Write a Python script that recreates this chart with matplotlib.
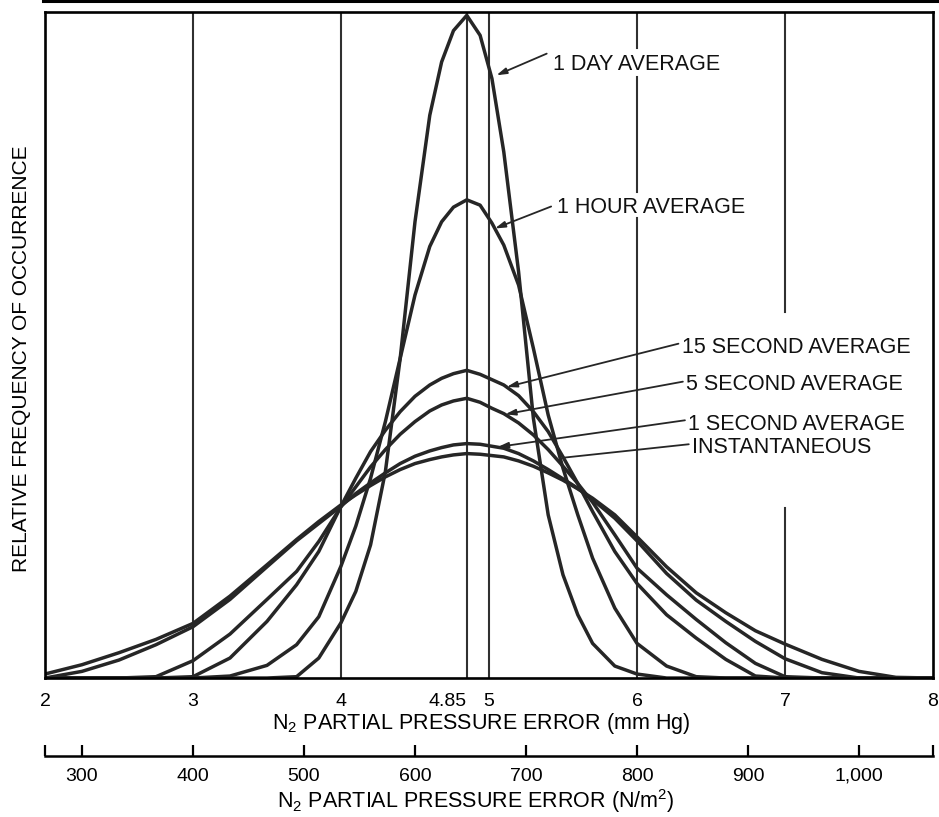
import numpy as np
import matplotlib.pyplot as plt
from matplotlib.lines import Line2D

plt.rcParams["font.family"] = ["Liberation Sans", "DejaVu Sans"]

MMHG_TO_NM2 = 133.322

# N2 partial pressure error (mm Hg) where the curves were read
pressure_mmhg = [2.0, 2.25, 2.5, 2.75, 3.0, 3.25, 3.5, 3.7, 3.85,
                 4.0, 4.1, 4.2, 4.3, 4.4, 4.5, 4.6, 4.68, 4.76,
                 4.85, 4.94, 5.02, 5.1, 5.2, 5.3, 5.4, 5.5, 5.6,
                 5.7, 5.85, 6.0, 6.2, 6.4, 6.6, 6.8, 7.0, 7.25,
                 7.5, 7.75, 8.0]

# relative frequency of occurrence (1.0 = top of frame)
one_day = [0, 0, 0, 0, 0, 0, 0, 0.002, 0.03,
           0.083, 0.13, 0.20, 0.31, 0.48, 0.685, 0.845, 0.925, 0.972,
           0.995, 0.965, 0.90, 0.79, 0.61, 0.39, 0.245, 0.155, 0.095,
           0.052, 0.018, 0.006, 0, 0, 0, 0, 0, 0,
           0, 0, 0]
one_hour = [0, 0, 0, 0, 0, 0.003, 0.019, 0.05, 0.092,
            0.168, 0.228, 0.30, 0.385, 0.48, 0.575, 0.648, 0.685, 0.707,
            0.718, 0.71, 0.683, 0.65, 0.59, 0.495, 0.395, 0.315, 0.245,
            0.18, 0.105, 0.052, 0.018, 0.002, 0, 0, 0, 0,
            0, 0, 0]
fifteen_second = [0, 0, 0, 0, 0.002, 0.03, 0.085, 0.14, 0.19,
                  0.258, 0.30, 0.34, 0.372, 0.40, 0.423, 0.44, 0.45, 0.457,
                  0.462, 0.456, 0.448, 0.44, 0.424, 0.40, 0.37, 0.332, 0.292,
                  0.25, 0.19, 0.142, 0.095, 0.06, 0.028, 0.003, 0, 0,
                  0, 0, 0]
five_second = [0, 0, 0, 0.002, 0.026, 0.066, 0.118, 0.16, 0.205,
               0.257, 0.287, 0.317, 0.343, 0.366, 0.385, 0.401, 0.41, 0.416,
               0.42, 0.414, 0.405, 0.397, 0.383, 0.365, 0.343, 0.318, 0.292,
               0.264, 0.215, 0.165, 0.125, 0.088, 0.053, 0.022, 0.002, 0,
               0, 0, 0]
one_second = [0, 0.01, 0.027, 0.05, 0.077, 0.118, 0.167, 0.206, 0.232,
              0.258, 0.277, 0.293, 0.308, 0.322, 0.333, 0.341, 0.346, 0.35,
              0.352, 0.351, 0.348, 0.345, 0.337, 0.326, 0.313, 0.299, 0.285,
              0.268, 0.24, 0.206, 0.157, 0.117, 0.085, 0.055, 0.029, 0.008,
              0, 0, 0]
instantaneous = [0.006, 0.02, 0.038, 0.058, 0.082, 0.123, 0.17, 0.208, 0.235,
                 0.26, 0.275, 0.289, 0.302, 0.313, 0.322, 0.328, 0.332, 0.335,
                 0.337, 0.336, 0.334, 0.332, 0.326, 0.318, 0.308, 0.297, 0.284,
                 0.27, 0.245, 0.212, 0.167, 0.128, 0.098, 0.071, 0.051, 0.028,
                 0.01, 0.001, 0]

curves = [one_day, one_hour, fifteen_second, five_second, one_second, instantaneous]

mmhg_ticks = [2, 3, 4, 4.85, 5, 6, 7, 8]
mmhg_labels = ["2", "3", "4", "4.85", "5", "6", "7", "8"]
nm2_ticks = [300, 400, 500, 600, 700, 800, 900, 1000]
nm2_labels = ["300", "400", "500", "600", "700", "800", "900", "1,000"]

grid_x = [3, 4, 4.85, 5, 6, 7]
grid_gaps = {6: [(0.691, 0.730), (0.902, 0.946)], 7: [(0.255, 0.55)]}

ink = "#262626"

fig = plt.figure(figsize=(9.39, 8.17), dpi=100)
ax = fig.add_axes([0.0479, 0.1701, 0.9457, 0.8152])
ax.set_xlim(2, 8)
ax.set_ylim(0, 1)

# vertical rules, some broken where labels sit
for gx in grid_x:
    spans, start = [], 0.0
    for lo, hi in grid_gaps.get(gx, []):
        spans.append((start, lo))
        start = hi
    spans.append((start, 1.0))
    for lo, hi in spans:
        ax.plot([gx, gx], [lo, hi], color="#303030", lw=1.5)

for ys in curves:
    ax.plot(pressure_mmhg, ys, color=ink, lw=2.5,
            solid_joinstyle="round", solid_capstyle="round")

for sp in ax.spines.values():
    sp.set_linewidth(1.9)

ax.set_yticks([])
ax.set_xticks(mmhg_ticks, mmhg_labels)
ax.tick_params(axis="x", length=0, pad=10.5, labelsize=14)
ax.get_xticklabels()[3].set_ha("right")

# second scale in N/m^2
secax = ax.secondary_xaxis(-0.117, functions=(lambda v: v * MMHG_TO_NM2,
                                              lambda p: p / MMHG_TO_NM2))
secax.set_xticks(nm2_ticks, nm2_labels)
secax.set_xticks([2 * MMHG_TO_NM2, 8 * MMHG_TO_NM2], minor=True)
secax.tick_params(which="both", direction="in", length=8, width=1.6,
                  pad=8.5, labelsize=14)
for sp in secax.spines.values():
    sp.set_linewidth(1.8)

ax.text(0.491, -0.0766, r"N$_{\mathregular{2}}$ PARTIAL PRESSURE ERROR (mm Hg)",
        transform=ax.transAxes, ha="center", va="baseline", fontsize=15.5)
ax.text(0.485, -0.195, r"N$_{\mathregular{2}}$ PARTIAL PRESSURE ERROR (N/m$^{\mathregular{2}}$)",
        transform=ax.transAxes, ha="center", va="baseline", fontsize=15.5)
ax.text(-0.026, 0.48, "RELATIVE FREQUENCY OF OCCURRENCE", transform=ax.transAxes,
        rotation=90, ha="center", va="center", fontsize=15)

# curve labels with leader arrows
labels = [
    ("1 DAY AVERAGE", (5.43, 0.913), (5.39, 0.9375), (5.05, 0.905), True),
    ("1 HOUR AVERAGE", (5.46, 0.698), (5.42, 0.708), (5.04, 0.675), True),
    ("15 SECOND AVERAGE", (6.306, 0.488), (6.28, 0.502), (5.12, 0.437), True),
    ("5 SECOND AVERAGE", (6.334, 0.432), (6.31, 0.445), (5.11, 0.396), True),
    ("1 SECOND AVERAGE", (6.348, 0.372), (6.324, 0.387), (5.06, 0.347), True),
    ("INSTANTANEOUS", (6.371, 0.338), (6.35, 0.351), (5.51, 0.331), False),
]
for text, pos, tail, tip, head in labels:
    ax.text(pos[0], pos[1], text, ha="left", va="baseline", fontsize=15.5, color="#111")
    style = "-|>,head_length=0.6,head_width=0.18" if head else "-"
    ax.annotate("", xy=tip, xytext=tail,
                arrowprops=dict(arrowstyle=style, color=ink, lw=1.3,
                                shrinkA=0, shrinkB=0))

# dark edge along the top of the scanned page
fig.add_artist(Line2D([0.046, 1.0], [0.9985, 0.9985], transform=fig.transFigure,
                      color="k", lw=2.2))

fig.savefig("out.png", dpi=100, facecolor="white")
